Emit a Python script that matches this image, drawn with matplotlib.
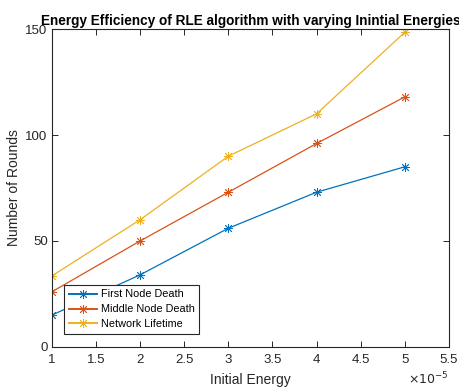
import matplotlib
matplotlib.use("Agg")
from matplotlib import pyplot as plt
from matplotlib.ticker import FuncFormatter

plt.rcParams["font.family"] = ["Liberation Sans", "DejaVu Sans"]

energy = [1e-5, 2e-5, 3e-5, 4e-5, 5e-5]
first_node = [15, 34, 56, 73, 85]
middle_node = [26, 50, 73, 96, 118]
network_life = [33.5, 60, 90, 110, 148.5]

fig = plt.figure(figsize=(4.59, 3.88), dpi=100)
ax = fig.add_axes([0.113, 0.106, 0.865, 0.819])

grey = "#262626"
mk = dict(marker=(8, 2, 0), markersize=6.5, linewidth=0.9, markeredgewidth=0.6)
ax.plot(energy, first_node, color="#0072BD", label="First Node Death", **mk)
ax.plot(energy, middle_node, color="#D95319", label="Middle Node Death", **mk)
ax.plot(energy, network_life, color="#EDB120", label="Network Lifetime", **mk)

ax.set_xlim(1e-5, 5.5e-5)
ax.set_ylim(0, 150)
ax.set_xticks([1e-5 + 0.5e-5 * i for i in range(10)])
ax.set_yticks([0, 50, 100, 150])
ax.xaxis.set_major_formatter(FuncFormatter(lambda v, p: "%g" % round(v / 1e-5, 3)))
ax.text(1.0, -0.075, r"$\times10^{-5}$", transform=ax.transAxes, ha="right",
        va="top", fontsize=9, color=grey)

ax.tick_params(direction="in", top=True, right=True, labelsize=9.5,
               colors=grey, length=4, width=0.7)
ax.tick_params(axis="x", pad=5)
ax.tick_params(axis="y", pad=3)
for s in ax.spines.values():
    s.set_color(grey)
    s.set_linewidth(0.8)

ax.set_xlabel("Initial Energy", fontsize=10, color=grey, labelpad=5)
ax.set_ylabel("Number of Rounds", fontsize=10, color=grey, labelpad=3.5)
ax.set_title("Energy Efficiency of RLE algorithm with varying Inintial Energies",
             fontsize=9.8, fontweight="bold", pad=3)

leg = ax.legend(loc="lower left", bbox_to_anchor=(0.018, 0.025), fontsize=7.8,
                fancybox=False, framealpha=1, edgecolor=grey,
                borderpad=0.4, labelspacing=0.45, handlelength=2.6,
                handletextpad=0.4)
leg.get_frame().set_linewidth(0.8)
for h in leg.get_lines():
    h.set_linewidth(1.4)

fig.savefig("out.png", dpi=100)
